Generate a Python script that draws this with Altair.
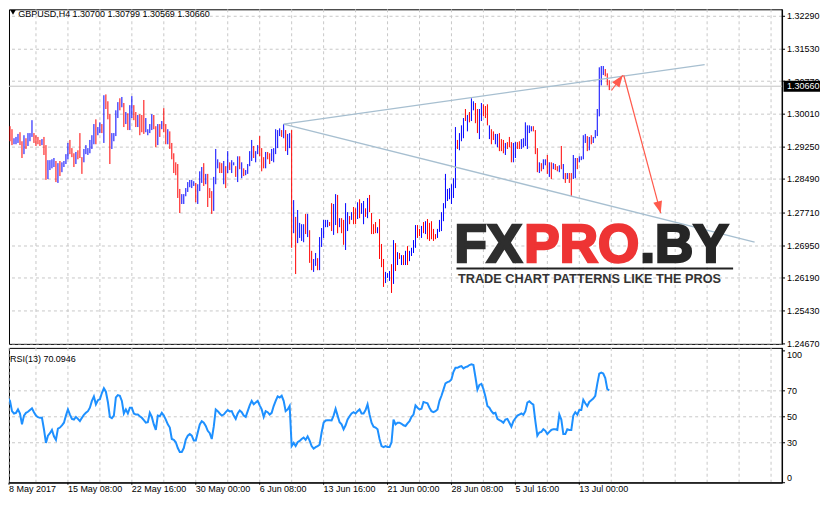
import json
import altair as alt
import pandas as pd

# ---------------- data ----------------
SYMBOL = "GBPUSD,H4"
LAST_OHLC = ["1.30700", "1.30799", "1.30569", "1.30660"]
LAST_CLOSE = 1.30660
RSI_CAPTION = "RSI(13) 70.0946"

HIGH = [
    1.2987, 1.2964, 1.2985, 1.2973, 1.2966, 1.2945, 1.2948, 1.2955, 1.2959, 1.2938,
    1.2952, 1.2945, 1.2957, 1.2957, 1.2987, 1.2957, 1.2952, 1.2948, 1.2941, 1.2943,
    1.2948, 1.2929, 1.2894, 1.2894, 1.2896, 1.2899, 1.2892, 1.2887, 1.2892, 1.2889,
    1.2892, 1.2908, 1.2934, 1.2941, 1.2922, 1.2910, 1.2913, 1.2917, 1.2957, 1.2901,
    1.2920, 1.2929, 1.2922, 1.2941, 1.2952, 1.2978, 1.2989, 1.2971, 1.2982, 1.2978,
    1.3045, 1.3047, 1.3031, 1.3001, 1.2957, 1.2957, 1.3010, 1.3029, 1.3038, 1.3041,
    1.3027, 1.3006, 1.3003, 1.3022, 1.3043, 1.3022, 1.3006, 1.2999, 1.3001, 1.2999,
    1.3034, 1.2992, 1.2966, 1.2978, 1.3001, 1.2999, 1.2973, 1.2978, 1.2978, 1.2985,
    1.3015, 1.2978, 1.2966, 1.2961, 1.2934, 1.2910, 1.2889, 1.2885, 1.2827, 1.2815,
    1.2815, 1.2829, 1.2843, 1.2848, 1.2848, 1.2845, 1.2841, 1.2838, 1.2868, 1.2878,
    1.2887, 1.2862, 1.2862, 1.2829, 1.2822, 1.2855, 1.2920, 1.2896, 1.2889, 1.2887,
    1.2892, 1.2880, 1.2915, 1.2889, 1.2894, 1.2889, 1.2880, 1.2903, 1.2903, 1.2889,
    1.2875, 1.2871, 1.2885, 1.2915, 1.2941, 1.2927, 1.2915, 1.2929, 1.2950, 1.2922,
    1.2901, 1.2913, 1.2913, 1.2910, 1.2920, 1.2922, 1.2966, 1.2964, 1.2968, 1.2964,
    1.2978, 1.2964, 1.2955, 1.2957, 1.2964, 1.2801, 1.2762, 1.2778, 1.2748, 1.2745,
    1.2745, 1.2769, 1.2769, 1.2731, 1.2683, 1.2664, 1.2678, 1.2666, 1.2715, 1.2736,
    1.2755, 1.2755, 1.2755, 1.2750, 1.2794, 1.2792, 1.2815, 1.2813, 1.2759, 1.2759,
    1.2755, 1.2794, 1.2773, 1.2764, 1.2773, 1.2785, 1.2782, 1.2796, 1.2803, 1.2794,
    1.2799, 1.2782, 1.2806, 1.2813, 1.2771, 1.2745, 1.2750, 1.2738, 1.2757, 1.2699,
    1.2664, 1.2634, 1.2631, 1.2636, 1.2652, 1.2708, 1.2701, 1.2680, 1.2678, 1.2673,
    1.2673, 1.2683, 1.2694, 1.2683, 1.2690, 1.2708, 1.2743, 1.2743, 1.2734, 1.2741,
    1.2750, 1.2752, 1.2757, 1.2748, 1.2752, 1.2734, 1.2722, 1.2734, 1.2755, 1.2773,
    1.2794, 1.2862, 1.2827, 1.2829, 1.2838, 1.2852, 1.2971, 1.2941, 1.2957, 1.2975,
    1.2992, 1.3013, 1.2999, 1.3006, 1.3038, 1.3031, 1.3027, 1.3013, 1.3013, 1.3027,
    1.3024, 1.3020, 1.3024, 1.2975, 1.2966, 1.2961, 1.2955, 1.2955, 1.2957, 1.2943,
    1.2941, 1.2934, 1.2936, 1.2948, 1.2936, 1.2934, 1.2936, 1.2936, 1.2938, 1.2943,
    1.2945, 1.2982, 1.2975, 1.2975, 1.2973, 1.2973, 1.2964, 1.2922, 1.2889, 1.2887,
    1.2896, 1.2896, 1.2906, 1.2889, 1.2889, 1.2887, 1.2885, 1.2880, 1.2882, 1.2927,
    1.2885, 1.2864, 1.2864, 1.2864, 1.2864, 1.2906, 1.2899, 1.2899, 1.2903, 1.2903,
    1.2952, 1.2955, 1.2950, 1.2948, 1.2952, 1.2948, 1.2964, 1.3013, 1.3110, 1.3113,
    1.3113, 1.3106, 1.3096, 1.3080,
]

LOW = [
    1.2948, 1.2948, 1.2957, 1.2938, 1.2929, 1.2931, 1.2931, 1.2934, 1.2929, 1.2899,
    1.2908, 1.2920, 1.2927, 1.2938, 1.2948, 1.2934, 1.2927, 1.2931, 1.2927, 1.2929,
    1.2906, 1.2848, 1.2850, 1.2871, 1.2875, 1.2878, 1.2843, 1.2841, 1.2857, 1.2866,
    1.2878, 1.2885, 1.2896, 1.2908, 1.2901, 1.2878, 1.2885, 1.2896, 1.2899, 1.2862,
    1.2889, 1.2908, 1.2906, 1.2910, 1.2920, 1.2931, 1.2931, 1.2952, 1.2957, 1.2957,
    1.2934, 1.3013, 1.2989, 1.2885, 1.2920, 1.2938, 1.2950, 1.2992, 1.3010, 1.3017,
    1.2971, 1.2978, 1.2964, 1.2964, 1.2992, 1.2987, 1.2971, 1.2971, 1.2952, 1.2959,
    1.2955, 1.2959, 1.2952, 1.2957, 1.2964, 1.2966, 1.2924, 1.2929, 1.2948, 1.2966,
    1.2959, 1.2931, 1.2931, 1.2920, 1.2896, 1.2864, 1.2859, 1.2806, 1.2771, 1.2792,
    1.2792, 1.2810, 1.2820, 1.2831, 1.2829, 1.2834, 1.2796, 1.2792, 1.2822, 1.2841,
    1.2834, 1.2838, 1.2785, 1.2806, 1.2769, 1.2776, 1.2838, 1.2875, 1.2864, 1.2864,
    1.2838, 1.2829, 1.2864, 1.2871, 1.2864, 1.2882, 1.2855, 1.2843, 1.2873, 1.2852,
    1.2857, 1.2859, 1.2862, 1.2880, 1.2892, 1.2899, 1.2889, 1.2908, 1.2903, 1.2868,
    1.2875, 1.2875, 1.2896, 1.2885, 1.2892, 1.2889, 1.2908, 1.2922, 1.2950, 1.2948,
    1.2945, 1.2915, 1.2906, 1.2922, 1.2690, 1.2724, 1.2629, 1.2701, 1.2713, 1.2706,
    1.2703, 1.2722, 1.2715, 1.2655, 1.2638, 1.2634, 1.2648, 1.2638, 1.2638, 1.2692,
    1.2713, 1.2738, 1.2738, 1.2741, 1.2729, 1.2720, 1.2743, 1.2724, 1.2738, 1.2724,
    1.2697, 1.2685, 1.2729, 1.2745, 1.2755, 1.2745, 1.2745, 1.2757, 1.2759, 1.2769,
    1.2745, 1.2762, 1.2759, 1.2773, 1.2722, 1.2722, 1.2724, 1.2724, 1.2664, 1.2645,
    1.2599, 1.2608, 1.2620, 1.2613, 1.2585, 1.2606, 1.2636, 1.2650, 1.2664, 1.2650,
    1.2650, 1.2650, 1.2650, 1.2659, 1.2671, 1.2678, 1.2690, 1.2713, 1.2717, 1.2713,
    1.2724, 1.2722, 1.2710, 1.2706, 1.2710, 1.2706, 1.2710, 1.2713, 1.2727, 1.2729,
    1.2752, 1.2782, 1.2799, 1.2803, 1.2792, 1.2806, 1.2829, 1.2920, 1.2917, 1.2938,
    1.2945, 1.2985, 1.2961, 1.2982, 1.2985, 1.3010, 1.2980, 1.2957, 1.2943, 1.2985,
    1.2996, 1.2992, 1.2975, 1.2943, 1.2931, 1.2941, 1.2931, 1.2924, 1.2915, 1.2915,
    1.2910, 1.2906, 1.2920, 1.2924, 1.2889, 1.2889, 1.2899, 1.2920, 1.2920, 1.2920,
    1.2924, 1.2927, 1.2920, 1.2957, 1.2961, 1.2961, 1.2908, 1.2866, 1.2864, 1.2868,
    1.2873, 1.2882, 1.2862, 1.2855, 1.2850, 1.2873, 1.2871, 1.2868, 1.2866, 1.2873,
    1.2850, 1.2841, 1.2850, 1.2841, 1.2810, 1.2850, 1.2852, 1.2873, 1.2889, 1.2894,
    1.2896, 1.2934, 1.2915, 1.2917, 1.2931, 1.2934, 1.2945, 1.2950, 1.2996, 1.3068,
    1.3092, 1.3089, 1.3068, 1.3057,
]

# 1 = bullish bar (blue), 0 = bearish bar (red)
UP = [
    0, 1, 1, 0, 0, 1, 1, 1, 0, 0,
    1, 0, 1, 1, 1, 0, 0, 0, 0, 1,
    0, 0, 1, 1, 1, 1, 0, 1, 0, 1,
    1, 1, 1, 0, 0, 0, 1, 0, 0, 0,
    1, 1, 1, 1, 1, 1, 0, 1, 1, 0,
    1, 0, 0, 0, 1, 1, 1, 1, 0, 1,
    0, 1, 0, 1, 1, 0, 0, 1, 0, 0,
    0, 1, 1, 1, 1, 0, 0, 1, 0, 1,
    0, 0, 1, 0, 0, 0, 0, 0, 0, 1,
    1, 1, 1, 1, 1, 1, 0, 1, 1, 1,
    0, 1, 0, 0, 0, 1, 1, 1, 0, 0,
    1, 0, 1, 0, 1, 1, 0, 1, 0, 1,
    0, 1, 1, 1, 1, 0, 1, 1, 0, 0,
    0, 1, 0, 0, 1, 1, 1, 1, 1, 0,
    1, 0, 1, 1, 0, 1, 0, 1, 1, 1,
    1, 0, 1, 0, 0, 1, 1, 0, 1, 1,
    1, 1, 1, 0, 0, 1, 1, 0, 1, 0,
    0, 1, 1, 0, 1, 0, 0, 1, 0, 1,
    1, 0, 1, 0, 0, 0, 0, 1, 0, 0,
    0, 1, 1, 1, 0, 1, 0, 1, 0, 1,
    0, 1, 0, 1, 1, 1, 1, 0, 0, 1,
    0, 1, 0, 0, 0, 0, 0, 1, 1, 1,
    1, 1, 1, 1, 1, 1, 1, 0, 1, 1,
    1, 0, 1, 0, 1, 1, 0, 0, 1, 1,
    0, 0, 0, 1, 0, 0, 1, 1, 0, 0,
    0, 1, 0, 0, 0, 1, 1, 0, 0, 1,
    1, 1, 1, 1, 1, 0, 0, 0, 1, 0,
    1, 1, 0, 1, 0, 1, 0, 0, 1, 0,
    1, 0, 1, 0, 0, 1, 1, 0, 1, 1,
    1, 1, 0, 1, 0, 1, 1, 1, 1, 1,
    1, 0, 0, 0,
]

RSI = [
    60.9, 62.7, 64.3, 62.2, 54.4, 52.6, 53.1, 55.7, 52.6, 44.3,
    51.0, 53.1, 53.9, 55.2, 56.5, 53.6, 51.0, 49.8, 49.3, 49.3,
    40.6, 30.2, 35.7, 37.6, 40.1, 35.2, 32.5, 41.1, 41.9, 43.6,
    45.6, 51.0, 55.7, 51.8, 48.5, 48.0, 50.0, 48.5, 46.8, 49.3,
    51.6, 53.1, 54.4, 57.0, 62.2, 65.6, 59.6, 62.7, 63.5, 68.2,
    71.8, 69.2, 61.4, 50.0, 49.0, 51.0, 64.8, 66.6, 66.1, 62.2,
    52.6, 55.7, 52.6, 57.0, 57.0, 52.6, 51.8, 51.8, 50.5, 49.3,
    47.5, 45.6, 46.0, 53.1, 50.0, 44.3, 40.1, 51.0, 50.5, 53.1,
    51.0, 48.0, 44.3, 41.9, 33.2, 32.5, 30.7, 26.3, 23.3, 23.3,
    26.3, 32.7, 35.7, 36.9, 35.7, 32.0, 32.0, 38.1, 44.3, 46.8,
    45.6, 43.1, 39.4, 37.6, 33.2, 42.6, 55.7, 54.4, 52.6, 51.0,
    51.8, 53.6, 55.2, 54.2, 54.4, 51.0, 48.5, 52.6, 54.9, 53.6,
    51.0, 50.0, 54.4, 58.8, 62.2, 59.6, 60.9, 62.2, 58.8, 55.7,
    50.0, 54.4, 53.6, 51.8, 53.1, 58.3, 62.2, 65.6, 64.8, 66.1,
    62.2, 54.4, 55.7, 58.3, 27.8, 30.2, 27.8, 30.7, 31.7, 33.2,
    34.2, 32.5, 35.2, 32.0, 27.8, 25.8, 27.0, 27.8, 28.8, 38.1,
    45.6, 47.3, 47.5, 47.5, 47.3, 51.0, 56.2, 51.0, 46.0, 44.3,
    40.6, 43.6, 48.0, 50.5, 52.6, 53.6, 52.6, 54.4, 55.7, 52.6,
    52.6, 55.2, 59.6, 51.8, 45.6, 42.6, 41.9, 40.6, 33.2, 27.8,
    27.0, 27.8, 27.0, 27.0, 30.7, 48.0, 44.3, 45.6, 45.6, 44.8,
    43.6, 43.1, 45.1, 46.8, 50.0, 51.8, 58.8, 57.0, 55.7, 56.2,
    61.4, 60.9, 60.4, 57.0, 54.4, 53.6, 54.4, 55.7, 62.2, 66.1,
    70.8, 75.6, 76.5, 77.0, 78.6, 84.3, 87.4, 87.4, 88.2, 88.7,
    86.9, 87.9, 88.4, 89.5, 90.0, 89.5, 80.4, 70.8, 74.4, 75.2,
    71.3, 65.6, 58.3, 57.0, 54.4, 52.6, 53.1, 48.5, 47.5, 46.8,
    45.6, 48.0, 48.5, 45.6, 42.6, 46.8, 49.0, 51.0, 51.8, 52.6,
    51.6, 54.4, 60.9, 61.9, 60.4, 59.4, 46.8, 35.7, 38.1, 38.6,
    40.6, 39.4, 36.9, 38.6, 40.1, 40.6, 40.6, 40.1, 51.8, 48.0,
    36.9, 36.9, 40.6, 40.1, 40.1, 51.0, 53.6, 51.8, 55.2, 55.2,
    63.0, 60.4, 58.3, 61.4, 62.7, 64.0, 66.1, 75.2, 83.0, 83.8,
    83.0, 79.6, 71.3, 70.0946,
]

PRICE_TICKS = [1.32290, 1.31530, 1.30770, 1.30010, 1.29250, 1.28490,
               1.27710, 1.26950, 1.26190, 1.25430, 1.24670]
RSI_TICKS = [0, 30, 50, 70, 100]
RSI_GRID = [30, 50, 70]
TIME_LABELS = ["8 May 2017", "15 May 08:00", "22 May 16:00", "30 May 00:00",
               "6 Jun 08:00", "13 Jun 16:00", "21 Jun 00:00", "28 Jun 08:00",
               "5 Jul 16:00", "13 Jul 00:00"]
BARS_PER_LABEL = 32
BARS_PER_GRID = 16

# trend lines (bar index, price)
TREND_K1 = [140, 140]
TREND_P1 = [1.2978, 1.2978]
TREND_K2 = [350.75, 375.75]
TREND_P2 = [1.31165, 1.27035]
# arrows (bar index, price) ; head at the second point
ARROW_K1 = [310.25, 304.1]
ARROW_P1 = [1.30916, 1.30561]
ARROW_K2 = [328.75, 309.75]
ARROW_P2 = [1.27709, 1.30916]
ARROW_ANGLE = [165, 36]

# ---------------- styling / layout ----------------
W, HM, HR = 774, 335, 135
XD = [2.5, 389.5]
YD = [1.246648, 1.324502]
RD = [-0.1, 102.56]
GRID_COLOR = "#c8c8c8"
FONT = "Liberation Sans"
FS = 9
RED, BLUE = "#ff0000", "#0000ff"
RSI_COLOR = "#1e90ff"
TREND_COLOR = "#a7bfd0"
ARROW_COLOR = "#ff5a4c"

n = len(HIGH)
bars = pd.DataFrame({"k": list(range(n)), "high": HIGH, "low": LOW,
                     "dir": ["up" if u else "down" for u in UP], "rsi": RSI})

grid_vals = [BARS_PER_GRID * j for j in range(1, 25)]
xs = alt.Scale(domain=XD, nice=False, zero=False)
ys = alt.Scale(domain=YD, nice=False, zero=False)
rs = alt.Scale(domain=RD, nice=False, zero=False)

main_x_axis = alt.Axis(values=grid_vals, labels=False, ticks=False, domain=False,
                       grid=True, gridColor=GRID_COLOR, gridDash=[3, 3], title=None)
main_y_axis = alt.Axis(orient="right", values=PRICE_TICKS, format=".5f", tickSize=3,
                       labelPadding=2, grid=True, gridColor=GRID_COLOR, gridDash=[3, 3],
                       title=None, labelOverlap=False, domainColor="black",
                       tickColor="black")


def MX(f):
    return alt.X(f, type="quantitative", scale=xs, axis=main_x_axis)


def MY(f):
    return alt.Y(f, type="quantitative", scale=ys, axis=main_y_axis)


labels_js = json.dumps(TIME_LABELS)
label_expr = (f"datum.value < {BARS_PER_GRID} ? {labels_js}[0] : "
              f"((datum.value % {BARS_PER_LABEL} == 0 && datum.value / {BARS_PER_LABEL} < {len(TIME_LABELS)}) "
              f"? {labels_js}[datum.value / {BARS_PER_LABEL}] : '')")
tick_test = (f"datum.value < {BARS_PER_GRID} || (datum.value % {BARS_PER_LABEL} == 0 && "
             f"datum.value / {BARS_PER_LABEL} < {len(TIME_LABELS)})")

rsi_x_axis = alt.Axis(values=[XD[0]] + grid_vals, labelExpr=label_expr, labelAlign="left",
                      labelBaseline="top", tickSize=2, labelPadding=0, grid=True,
                      gridColor=GRID_COLOR, gridDash=[3, 3],
                      tickOpacity={"condition": {"test": tick_test, "value": 1}, "value": 0},
                      labelOverlap=False, labelFlush=False, title=None,
                      domainColor="black", tickColor="black")
rsi_y_axis = alt.Axis(orient="right", values=RSI_TICKS, tickSize=3, labelPadding=2,
                      grid=True, gridColor=GRID_COLOR, gridDash=[3, 3],
                      gridOpacity={"condition": {"test": "indexof(" + json.dumps(RSI_GRID) + ", datum.value) >= 0", "value": 1}, "value": 0},
                      labelBaseline={"condition": [{"test": "datum.value == 100", "value": "top"},
                                                   {"test": "datum.value == 0", "value": "bottom"}],
                                     "value": "middle"},
                      labelOverlap=False, title=None, domainColor="black", tickColor="black")


def RX(f):
    return alt.X(f, type="quantitative", scale=xs, axis=rsi_x_axis)


def RY(f):
    return alt.Y(f, type="quantitative", scale=rs, axis=rsi_y_axis)


last_df = pd.DataFrame({"p": [LAST_CLOSE], "label": [LAST_OHLC[3]]})
trend_df = pd.DataFrame({"k1": TREND_K1, "p1": TREND_P1, "k2": TREND_K2, "p2": TREND_P2})
arrow_df = pd.DataFrame({"k1": ARROW_K1, "p1": ARROW_P1, "k2": ARROW_K2, "p2": ARROW_P2,
                         "ang": ARROW_ANGLE})
title_df = pd.DataFrame({"t": [SYMBOL + "  " + " ".join(LAST_OHLC)]})

price_line = alt.Chart(last_df).mark_rule(color="#c4c4c4", strokeWidth=1).encode(y=MY("p"))

bar_layer = alt.Chart(bars).mark_rule(strokeWidth=1, clip=True).encode(
    x=MX("k"), y=MY("low"), y2=alt.Y2("high"),
    color=alt.Color("dir:N", scale=alt.Scale(domain=["up", "down"], range=[BLUE, RED]), legend=None),
)

trend_layer = alt.Chart(trend_df).mark_rule(color=TREND_COLOR, strokeWidth=1.3).encode(
    x=MX("k1"), y=MY("p1"), x2="k2", y2="p2")

arrow_layer = alt.Chart(arrow_df).mark_rule(color=ARROW_COLOR, strokeWidth=1.2).encode(
    x=MX("k1"), y=MY("p1"), x2="k2", y2="p2")

HEAD = "M0,0 L-0.38,1 L0.38,1 Z"
head_layer = alt.Chart(arrow_df).mark_point(shape=HEAD, filled=True, size=560, opacity=1,
                                            color=ARROW_COLOR, strokeWidth=0).encode(
    x=MX("k2"), y=MY("p2"), angle=alt.Angle("ang:Q", scale=None))

TAG = "M-1,-0.3 L1,-0.3 L1,0.3 L-1,0.3 Z"
tag_box = alt.Chart(last_df).mark_point(shape=TAG, filled=True, size=1332, opacity=1,
                                        color="black", strokeWidth=0).encode(
    x=alt.value(793.75), y=MY("p"))
tag_text = alt.Chart(last_df).mark_text(align="left", baseline="middle", color="white",
                                        font=FONT, fontSize=FS).encode(
    x=alt.value(779), y=MY("p"), text="label:N")

title_tri = alt.Chart(title_df).mark_point(shape="triangle-down", filled=True, size=30,
                                           color="black", opacity=1).encode(
    x=alt.value(4), y=alt.value(3.2))
title_text = alt.Chart(title_df).mark_text(align="left", baseline="alphabetic", font=FONT,
                                           fontSize=FS, color="black").encode(
    x=alt.value(9.3), y=alt.value(7.5), text="t:N")

LOGO_FS = 53
logo_fx = alt.Chart(title_df).mark_text(align="left", baseline="alphabetic", font=FONT,
                                        fontWeight="bold", fontSize=LOGO_FS, color="#2e2e2e",
                                        stroke="#2e2e2e", strokeWidth=2.5).encode(
    x=alt.value(446), y=alt.value(252.7), text=alt.value("FX"))
logo_pro = alt.Chart(title_df).mark_text(align="left", baseline="alphabetic", font=FONT,
                                         fontWeight="bold", fontSize=LOGO_FS, color="#ee3434",
                                         stroke="#ee3434", strokeWidth=2.5).encode(
    x=alt.value(516), y=alt.value(252.7), text=alt.value("PRO"))
logo_by = alt.Chart(title_df).mark_text(align="left", baseline="alphabetic", font=FONT,
                                        fontWeight="bold", fontSize=LOGO_FS, color="#262626",
                                        stroke="#262626", strokeWidth=2.5).encode(
    x=alt.value(632), y=alt.value(252.7), text=alt.value(".BY"))
logo_rule = alt.Chart(title_df).mark_rule(color="#222222", strokeWidth=2).encode(
    x=alt.value(448), x2=alt.value(725), y=alt.value(259.5))
logo_tag = alt.Chart(title_df).mark_text(align="left", baseline="alphabetic", font=FONT,
                                         fontWeight="bold", fontSize=12.75,
                                         color="#333333").encode(
    x=alt.value(449.5), y=alt.value(273.7), text=alt.value("TRADE CHART PATTERNS LIKE THE PROS"))

main = alt.layer(
    price_line, bar_layer, trend_layer, arrow_layer, head_layer,
    logo_fx, logo_pro, logo_by, logo_rule, logo_tag,
    tag_box, tag_text, title_tri, title_text,
).properties(width=W, height=HM)

rsi_line = alt.Chart(bars).mark_line(color=RSI_COLOR, strokeWidth=2, clip=True).encode(
    x=RX("k"), y=RY("rsi"))
rsi_title = alt.Chart(title_df).mark_text(align="left", baseline="alphabetic", font=FONT,
                                          fontSize=FS, color="black").encode(
    x=alt.value(1), y=alt.value(13.7), text=alt.value(RSI_CAPTION))

rsi = alt.layer(rsi_line, rsi_title).properties(width=W, height=HR)

chart = alt.vconcat(main, rsi, spacing=4, bounds="flush").properties(
    padding={"left": 0, "top": 0, "right": 0, "bottom": 0}
).configure_view(stroke="black", strokeWidth=1).configure_axis(
    labelFont=FONT, labelFontSize=FS, labelColor="black", translate=0
)

chart.save("out.html", embed_options={"renderer": "svg", "actions": False})
